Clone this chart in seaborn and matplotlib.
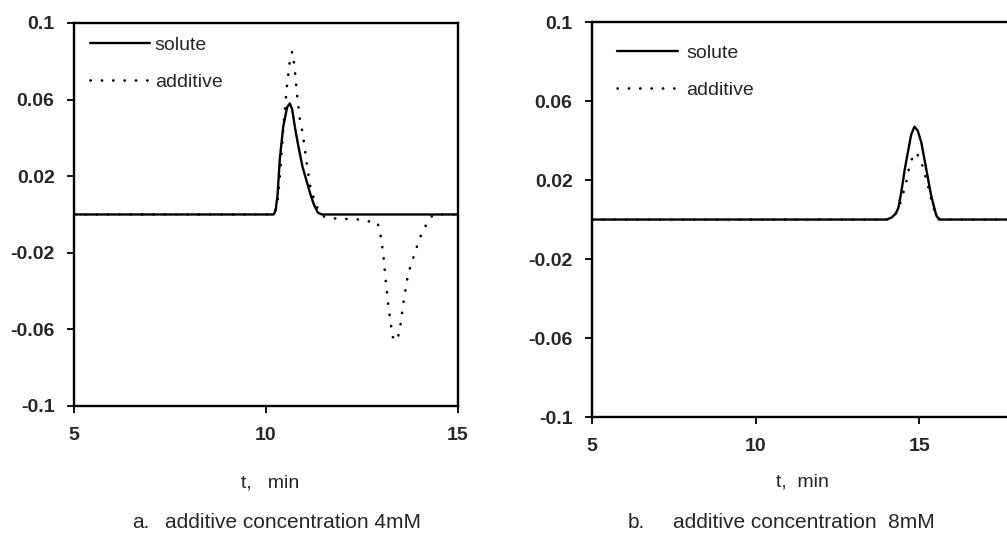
import seaborn as sns
import matplotlib.pyplot as plt
import pandas as pd

# panel a: additive concentration 4mM
t_solute_a = [5.0, 10.20, 10.25, 10.30, 10.36, 10.45, 10.55, 10.62, 10.68, 10.75, 10.83,
              10.95, 11.05, 11.15, 11.25, 11.35, 11.45, 15.0]
solute_a = [0, 0, 0.002, 0.010, 0.029, 0.046, 0.056, 0.058, 0.055, 0.046, 0.037,
            0.025, 0.018, 0.011, 0.005, 0.001, 0, 0]

t_additive_a = [5.0, 10.20, 10.30, 10.38, 10.45, 10.55, 10.62, 10.68, 10.74, 10.80, 10.88,
                10.96, 11.05, 11.15, 11.25, 11.35, 11.50, 11.70, 12.40, 12.70, 12.90,
                12.97, 13.05, 13.12, 13.20, 13.30, 13.42, 13.50, 13.58, 13.70, 13.83,
                14.00, 14.18, 14.35, 15.0]
additive_a = [0, 0, 0.006, 0.025, 0.045, 0.068, 0.080, 0.085, 0.078, 0.064, 0.050,
              0.042, 0.028, 0.015, 0.008, 0.003, -0.001, -0.002, -0.0026, -0.0037, -0.004,
              -0.009, -0.020, -0.035, -0.050, -0.064, -0.066, -0.058, -0.046, -0.031, -0.023,
              -0.0125, -0.005, 0, 0]

# panel b: additive concentration 8mM
t_solute_b = [5.0, 14.00, 14.15, 14.28, 14.36, 14.45, 14.55, 14.66, 14.75, 14.85, 14.95,
              15.06, 15.15, 15.25, 15.35, 15.43, 15.52, 15.60, 20.0]
solute_b = [0, 0, 0.001, 0.003, 0.006, 0.014, 0.025, 0.035, 0.043, 0.047, 0.045,
            0.039, 0.031, 0.022, 0.013, 0.0075, 0.002, 0, 0]

t_additive_b = [5.0, 14.00, 14.20, 14.35, 14.45, 14.60, 14.72, 14.88, 15.03, 15.15, 15.25,
                15.35, 15.45, 15.55, 15.65, 20.0]
additive_b = [0, 0, 0.001, 0.005, 0.010, 0.019, 0.029, 0.034, 0.031, 0.024, 0.018,
              0.011, 0.005, 0.001, 0, 0]

y_ticks = [0.1, 0.06, 0.02, -0.02, -0.06, -0.1]
y_ticklabels = ['0.1', '0.06', '0.02', '-0.02', '-0.06', '-0.1']

sns.set_style('white')
plt.rcParams['font.family'] = ['Liberation Sans', 'DejaVu Sans']

fig = plt.figure(figsize=(10.07, 5.39), dpi=100)
ax1 = fig.add_axes([0.0735, 0.2468, 0.3813, 0.7106])
ax2 = fig.add_axes([0.5879, 0.2263, 0.4876, 0.7328])

dots = (0, (0.1, 4.2))
panels = [
    (ax1, t_solute_a, solute_a, t_additive_a, additive_a, (5, 15), (0.005, 1.0), 0.25),
    (ax2, t_solute_b, solute_b, t_additive_b, additive_b, (5, 20), (0.024, 0.978), 0.45),
]
for ax, ts, ys, ta, ya, xl, leg_pos, txt_pad in panels:
    sns.lineplot(x=ts, y=ys, ax=ax, color='black', lw=1.7, label='solute')
    sns.lineplot(x=ta, y=ya, ax=ax, color='black', lw=1.9, linestyle=dots,
                 dash_capstyle='round', label='additive')
    ax.set_xlim(*xl)
    ax.set_ylim(-0.1, 0.1)
    ax.set_xticks([5, 10, 15])
    ax.set_xticklabels(['5', '10', '15'])
    ax.set_yticks(y_ticks)
    ax.set_yticklabels(y_ticklabels)
    ax.tick_params(axis='both', direction='out', length=5, width=1.3, labelsize=14,
                   left=True, bottom=True, color='black')
    ax.tick_params(axis='x', pad=10)
    ax.tick_params(axis='y', pad=9)
    for lab in ax.get_xticklabels() + ax.get_yticklabels():
        lab.set_fontweight('bold')
    for sp in ax.spines.values():
        sp.set_color('black')
        sp.set_linewidth(1.7)
    ax.set(xlabel=None, ylabel=None)
    ax.legend(loc='upper left', bbox_to_anchor=leg_pos, frameon=False, fontsize=14,
              handlelength=3.1, handletextpad=txt_pad, labelspacing=1.0, borderaxespad=0.3)

fig.text(0.268, 0.104, 't,   min', fontsize=14, ha='center', va='center')
fig.text(0.797, 0.106, 't,  min', fontsize=14, ha='center', va='center')
fig.text(0.131, 0.030, 'a.', fontsize=15, ha='left', va='center')
fig.text(0.164, 0.030, 'additive concentration 4mM', fontsize=15, ha='left', va='center')
fig.text(0.623, 0.030, 'b.', fontsize=15, ha='left', va='center')
fig.text(0.668, 0.030, 'additive concentration  8mM', fontsize=15, ha='left', va='center')

plt.savefig('out.png', dpi=100)
